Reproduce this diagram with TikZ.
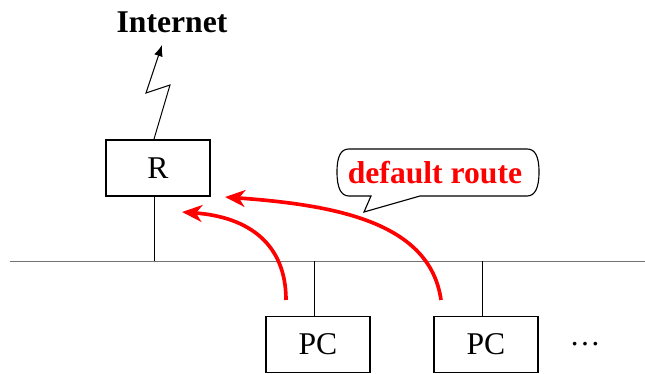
\documentclass[tikz,border=0pt]{standalone}
\usepackage{fontspec}
\setmainfont{Liberation Serif}
\usetikzlibrary{arrows.meta}
\begin{document}
\begin{tikzpicture}[x=0.025cm,y=-0.025cm,
  box/.style={draw,line width=1.3pt,minimum width=2.6cm,minimum height=1.4cm,inner sep=0pt,font=\fontsize{22.5}{26}\selectfont},
  lbl/.style={font=\fontsize{22.5}{26}\selectfont\bfseries},
  drop/.style={line width=0.6pt},
  route/.style={red,line width=2.6pt,-{Stealth[length=0.5cm,width=0.42cm,inset=0.15cm]}}]
\useasboundingbox (0,0) rectangle (645,374);
% bus
\coordinate (busL) at (10,261);
\coordinate (busR) at (645,261);
\draw[gray!90!black,line width=0.7pt] (busL) -- (busR);
% nodes
\node[box] (R) at (158,168) {R};
\node[box] (pc1) at (318,344.5) {PC};
\node[box] (pc2) at (486,344.5) {PC};
\node[font=\fontsize{22}{26}\selectfont] (dots) at (585,344) {\dots};
\node[lbl] (inet) at (172,22) {Internet};
% drops
\draw[drop] ([xshift=-0.1cm]R.south) -- ([xshift=-0.1cm]R.south |- busL);
\draw[drop] ([xshift=-0.1cm]pc1.north) -- ([xshift=-0.1cm]pc1.north |- busL);
\draw[drop] ([xshift=-0.1cm]pc2.north) -- ([xshift=-0.1cm]pc2.north |- busL);
% lightning
\coordinate (z1) at (170,85);
\coordinate (z2) at (146,93);
\coordinate (ztip) at (162,45);
\draw[line width=0.7pt,-{Latex[length=0.28cm,width=0.22cm]}] ([xshift=-0.1cm]R.north) -- (z1) -- (z2) -- (ztip);
% callout
\draw[line width=0.8pt,fill=white]
  (371,196) -- (364,212) -- (420,196) -- (527,196)
  .. controls (535,196) and (539,188) .. (539,172)
  .. controls (539,156) and (535,149) .. (527,149)
  -- (349,149) .. controls (341,149) and (337,156) .. (337,172)
  .. controls (337,188) and (341,196) .. (349,196) -- cycle;
\node[lbl,red] (dr) at (435,173) {default route};
% routes
\coordinate (s1) at (286,300);
\coordinate (t1) at (182,212);
\coordinate (s2) at (441,300);
\coordinate (t2) at (225,197);
\draw[route] (s1) .. controls (286,245) and (250,217) .. (t1);
\draw[route] (s2) .. controls (430,222) and (335,205) .. (t2);
\end{tikzpicture}
\end{document}
